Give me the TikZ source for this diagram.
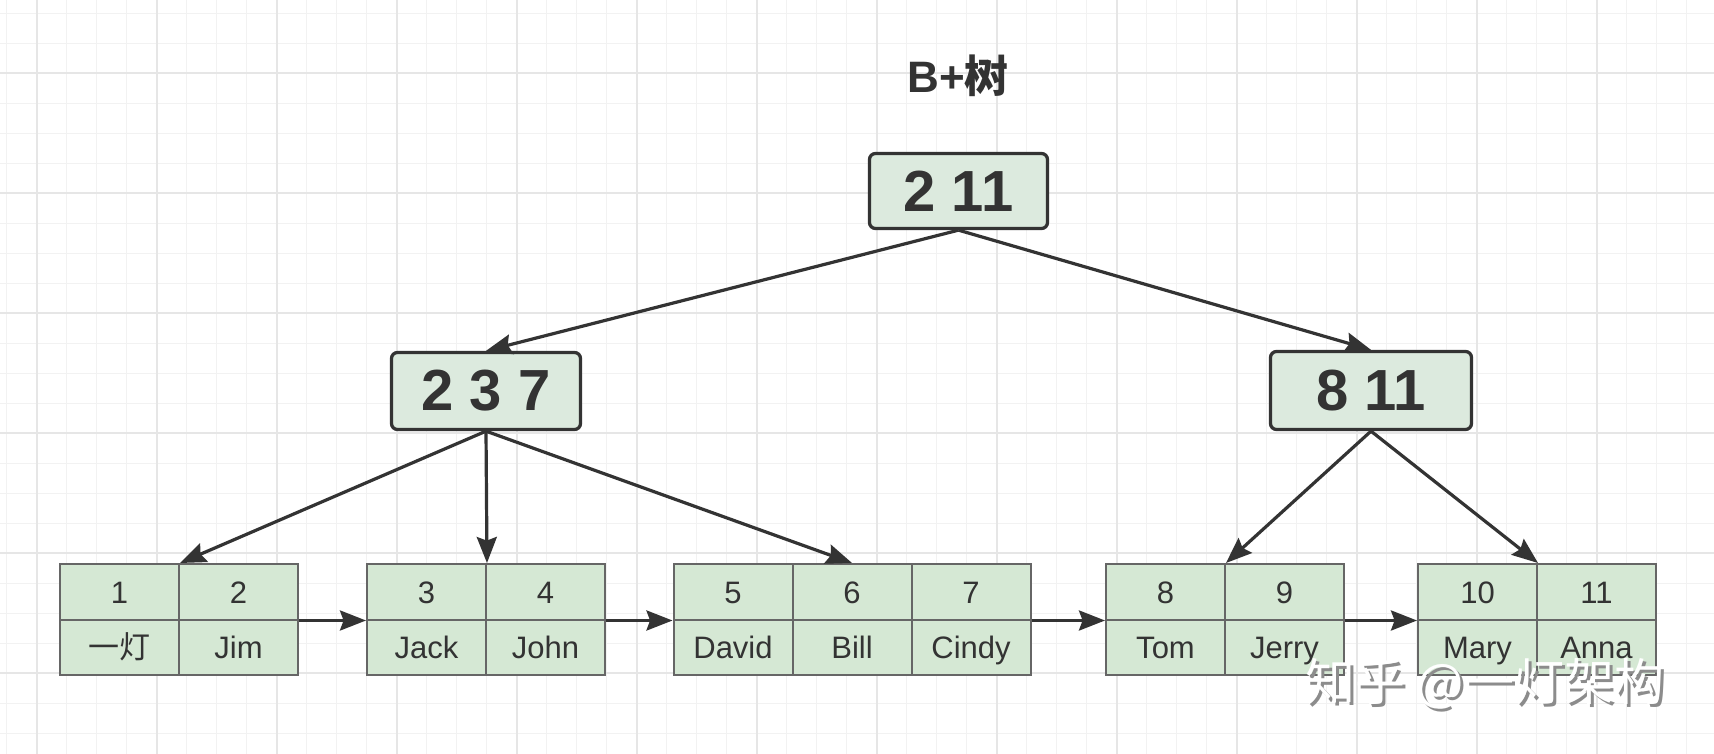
\documentclass[tikz,border=0pt]{standalone}
\usepackage{fontspec}
\setmainfont{Liberation Sans}
\newfontfamily\cjk{Noto Sans CJK SC}
\usetikzlibrary{arrows.meta}
\definecolor{gridminor}{HTML}{F2F2F2}
\definecolor{gridmajor}{HTML}{E6E6E6}
\definecolor{leaffill}{HTML}{D5E8D4}
\definecolor{leafline}{HTML}{666666}
\definecolor{innerfill}{HTML}{DCEADE}
\definecolor{dark}{HTML}{333333}
\tikzset{
  minorline/.style={draw=gridminor, line width=0.75pt},
  majorline/.style={draw=gridmajor, line width=1pt},
  cell/.style={draw=leafline, fill=leaffill, line width=1pt, minimum width=59.5pt,
    minimum height=27.75pt, inner sep=0pt, text=dark, text height=13pt, text depth=1.5pt,
    font=\fontsize{15.5}{18}\selectfont},
  inner/.style={draw=dark, fill=innerfill, line width=1.65pt, rounded corners=3pt,
    inner sep=0pt, text=dark, font=\bfseries\fontsize{29}{34}\selectfont},
  arr/.style={draw=dark, line width=1.6pt, -{Stealth[length=13pt,width=10pt,inset=1.8pt]}},
}
\begin{document}
\begin{tikzpicture}[x=0.5pt,y=-0.5pt]
\useasboundingbox (0,0) rectangle (1714,754);
\fill[white] (0,0) rectangle (1714,754);
% grid
\foreach \i in {0,...,57} {\draw[minorline] ({6.7+30*\i},0) -- ({6.7+30*\i},754);}
\foreach \i in {0,...,24} {\draw[minorline] (0,{13.3+30*\i}) -- (1714,{13.3+30*\i});}
\foreach \i in {0,...,14} {\draw[majorline] ({36.7+120*\i},0) -- ({36.7+120*\i},754);}
\foreach \i in {0,...,5} {\draw[majorline] (0,{73.3+120*\i}) -- (1714,{73.3+120*\i});}

% title
\node[text=dark, font=\bfseries\fontsize{22}{26}\selectfont] (title) at (958,76) {B+{\cjk 树}};

% inner nodes
\node[inner, minimum width=89pt, minimum height=37.5pt] (root) at (958.5,191) {2 11};
\node[inner, minimum width=94.5pt, minimum height=38.5pt] (pa) at (486,391) {2 3 7};
\node[inner, minimum width=100.5pt, minimum height=39pt] (pb) at (1371,390.5) {8 11};

% leaves: top row keys, bottom row names
\def\ty{591.75}
\def\by{647.25}
\node[cell] (t1) at (119.5,\ty) {1};
\node[cell] (b1) at (119.5,\by) {{\cjk 一灯}};
\node[cell] (t2) at (238.5,\ty) {2};
\node[cell] (b2) at (238.5,\by) {Jim};

\node[cell] (t3) at (426.5,\ty) {3};
\node[cell] (b3) at (426.5,\by) {Jack};
\node[cell] (t4) at (545.5,\ty) {4};
\node[cell] (b4) at (545.5,\by) {John};

\node[cell] (t5) at (733,\ty) {5};
\node[cell] (b5) at (733,\by) {David};
\node[cell] (t6) at (852,\ty) {6};
\node[cell] (b6) at (852,\by) {Bill};
\node[cell] (t7) at (971,\ty) {7};
\node[cell] (b7) at (971,\by) {Cindy};

\node[cell] (t8) at (1165.5,\ty) {8};
\node[cell] (b8) at (1165.5,\by) {Tom};
\node[cell] (t9) at (1284.5,\ty) {9};
\node[cell] (b9) at (1284.5,\by) {Jerry};

\node[cell] (t10) at (1477.5,\ty) {10};
\node[cell] (b10) at (1477.5,\by) {Mary};
\node[cell] (t11) at (1596.5,\ty) {11};
\node[cell] (b11) at (1596.5,\by) {Anna};

% tree connectors
\draw[arr] (root.south) -- (pa.north);
\draw[arr] (root.south) -- (pb.north);
\draw[arr] (pa.south) -- (t1.north east);
\draw[arr] (pa.south) -- (t3.north east);
\draw[arr] (pa.south) -- (t6.north);
\draw[arr] (pb.south) -- (t8.north east);
\draw[arr] (pb.south) -- (t10.north east);

% leaf links
\draw[arr] (t2.south east) -- (t3.south west);
\draw[arr] (t4.south east) -- (t5.south west);
\draw[arr] (t7.south east) -- (t8.south west);
\draw[arr] (t9.south east) -- (t10.south west);

% watermark
\node[text=black!45, font=\cjk\fontsize{25}{30}\selectfont] (wms) at (1488,687) {知乎 @一灯架构};
\node[text=white, font=\cjk\fontsize{25}{30}\selectfont] (wm) at (1485,684) {知乎 @一灯架构};
\end{tikzpicture}
\end{document}
